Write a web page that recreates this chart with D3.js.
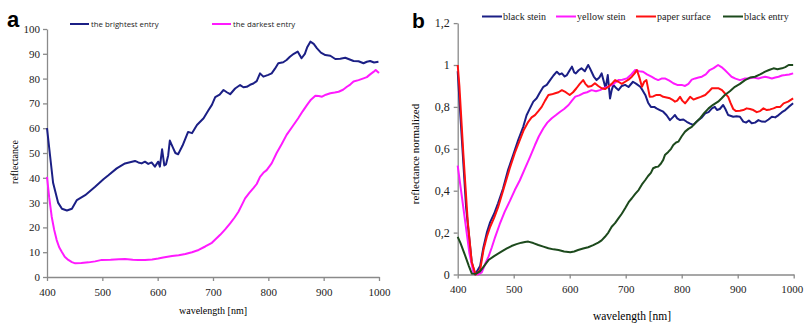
<!DOCTYPE html>
<html>
<head>
<meta charset="utf-8">
<script src="https://cdn.jsdelivr.net/npm/d3@7"></script>
<style>
  body { margin: 0; background: #fff; }
  svg { display: block; }
  .tick text { font-family: "Liberation Serif", "Times New Roman", serif; fill: #222; }
  .domain, .tick line { stroke: #8a8a8a; stroke-width: 1.3; }
</style>
</head>
<body>
<script>
'use strict';

// ---- panel a: reflectance [%] ----
const brightWl = [400,405,411,420,427,436,445,454,469,487,502,511,526,541,559,565,571,577,583,589,595,601,604,608,612,615,619,622,628,632,637,645,655,662,671,683,692,698,704,712,719,725,731,740,749,755,761,767,773,779,785,791,800,806,812,818,827,833,839,846,853,860,866,870,876,882,888,895,903,912,921,930,939,946,954,963,972,978,984,991,999];
const brightVal = [60,50,38,30,27.5,26.8,27.5,31,33,36.4,39.4,41,43.8,45.8,46.8,46.2,45.8,46.5,45.6,46.2,44.5,46.5,44.5,51.5,45,45.4,49,55,52,50,49.5,53,58.5,58,61.3,64,67.3,69.4,72.5,73.5,75.4,74.5,73.7,76,77.4,76.5,76.7,77.5,78,79,82.1,80.8,81.5,82.1,84,86.2,86.6,87.5,88.8,90,90.9,88.2,90,92.5,94.9,94,92.2,90.5,89.5,89.2,87.9,88,88.4,87.8,87.1,87,86.2,86.8,87.1,86.5,86.8];

const darkWl = [400,404,408.5,413,417.5,422,426.6,432,438.5,445,451,462,475,487,499,515,530,541,555,565,577,590,601,610,618,626,638,650,662,674,686,698,713,722,731,739,746,752,758,766,773,779,785,791,797,806,815,824,833,843,854,862,870,877,885,891,897,904,912,920,927,935,942,948,954,963,972,978,984,990,994,1000];
const darkVal = [40.4,32,24.3,19,14.9,12,10.2,8.2,6.9,6,5.5,5.6,5.9,6.3,6.9,7,7.2,7.3,7,6.9,6.9,7.1,7.5,7.9,8.2,8.5,8.8,9.3,10,10.9,12.3,13.8,17,19.2,21.6,24,26.3,29,31.7,34,35.8,37.5,40.4,42,43.1,45.8,50,53.5,57.3,60.5,64,66.8,69.4,71.5,73.1,73,72.7,73.5,74.1,74.4,74.7,75.5,76.7,77.6,78.8,79.4,80.1,80.6,81.7,82.7,83.5,82.3];

const aSeriesNames = ["the brightest entry", "the darkest entry"];
const aSeriesColors = ["#1b1f85", "#ff1aff"];
const aYTicks = [0,10,20,30,40,50,60,70,80,90,100];
const xTicks = [400,500,600,700,800,900,1000];

// ---- panel b: normalized reflectance ----
const steinWl = [400,405,415,425,431,440,446,452,458,465,472,481,490,499,508,517,523,529,535,541,547,553,559,565,571,577,582,586,591,595,600,604,608,611,616,621,627,633,636,639,643,648,653,657,661,664,668,672,675,678,683,687,693,699,705,713,719,726,730,735,740,745,751,755,761,767,773,779,784,788,792,797,803,809,815,821,826,830,836,842,848,854,859,863,868,874,878,883,892,898,904,910,915,920,925,931,937,943,949,955,961,967,973,979,985,991,999];
const steinVal = [0.97,0.75,0.32,0.06,0,0.04,0.13,0.2,0.25,0.29,0.34,0.41,0.5,0.57,0.642,0.705,0.76,0.793,0.825,0.841,0.87,0.896,0.905,0.928,0.95,0.968,0.955,0.96,0.945,0.952,0.975,0.992,0.965,0.96,0.975,0.984,0.97,1.0,0.985,0.968,0.945,0.928,0.94,0.96,0.92,0.889,0.952,0.84,0.88,0.905,0.89,0.88,0.9,0.905,0.895,0.92,0.91,0.896,0.88,0.857,0.82,0.8,0.8,0.793,0.785,0.777,0.76,0.737,0.75,0.761,0.745,0.737,0.74,0.729,0.72,0.714,0.728,0.737,0.75,0.769,0.775,0.793,0.8,0.785,0.79,0.809,0.79,0.761,0.753,0.755,0.753,0.73,0.725,0.735,0.722,0.725,0.737,0.73,0.729,0.74,0.753,0.75,0.761,0.775,0.785,0.8,0.817];

const yellowWl = [400,406,414,421,428,436,443,449,455,461,467,475,484,493,502,511,520,529,538,545,553,560,568,575,583,590,598,604,610,617,624,631,639,647,654,661,669,678,687,694,702,710,717,724,731,738,746,752,758,764,770,778,785,792,800,806,812,818,824,830,836,843,850,857,865,871,877,883,889,896,904,912,919,928,937,943,949,955,961,967,973,979,985,992,999];
const yellowVal = [0.52,0.4,0.24,0.1,0.01,0,0.01,0.05,0.085,0.13,0.18,0.24,0.3,0.35,0.403,0.45,0.505,0.56,0.618,0.66,0.698,0.725,0.746,0.76,0.777,0.79,0.809,0.83,0.849,0.855,0.865,0.87,0.88,0.875,0.88,0.89,0.896,0.91,0.928,0.93,0.936,0.955,0.976,0.97,0.968,0.955,0.944,0.935,0.928,0.935,0.936,0.925,0.913,0.905,0.905,0.9,0.91,0.93,0.936,0.94,0.944,0.955,0.976,0.985,1.0,0.99,0.976,0.96,0.944,0.935,0.928,0.935,0.936,0.94,0.936,0.94,0.944,0.94,0.936,0.94,0.944,0.95,0.952,0.955,0.96];

const paperWl = [400,403,410,418,425,432,440,446,452,458,465,472,481,493,502,511,518,526,532,538,544,550,556,562,568,574,580,586,593,600,606,612,618,624,628,633,639,645,651,657,663,669,675,681,687,693,699,705,711,716,720,725,729,733,737,743,749,755,761,767,773,779,783,788,792,797,801,806,810,815,821,827,834,842,848,854,860,866,872,877,883,887,892,897,904,910,916,922,928,934,940,946,952,958,964,970,976,982,990,999];
const paperVal = [1.0,0.9,0.58,0.25,0.06,0,0.02,0.117,0.18,0.228,0.27,0.32,0.4,0.507,0.58,0.642,0.69,0.729,0.75,0.761,0.78,0.8,0.83,0.857,0.86,0.865,0.87,0.88,0.87,0.857,0.87,0.889,0.91,0.928,0.91,0.896,0.9,0.913,0.9,0.889,0.885,0.896,0.91,0.928,0.92,0.91,0.92,0.93,0.944,0.96,0.976,0.936,0.896,0.92,0.928,0.848,0.85,0.857,0.857,0.848,0.845,0.841,0.835,0.825,0.83,0.848,0.83,0.817,0.83,0.848,0.835,0.841,0.848,0.857,0.872,0.889,0.889,0.889,0.88,0.865,0.848,0.82,0.79,0.78,0.782,0.785,0.793,0.79,0.785,0.775,0.78,0.793,0.785,0.788,0.793,0.8,0.8,0.817,0.825,0.841];

const entryWl = [400,405,412,420,425,432,440,447,455,465,478,487,496,505,514,520,526,535,544,553,562,571,580,590,601,608,615,624,633,642,651,657,663,669,675,681,687,693,699,706,711,717,723,729,735,740,745,749,754,758,763,767,770,776,781,785,790,794,800,806,812,818,825,833,840,848,856,865,871,877,886,895,904,913,922,931,940,949,956,964,971,979,985,991,999];
const entryVal = [0.18,0.15,0.1,0.04,0.005,0.003,0.015,0.04,0.069,0.088,0.109,0.123,0.136,0.145,0.152,0.155,0.157,0.15,0.141,0.133,0.125,0.12,0.117,0.11,0.106,0.11,0.117,0.124,0.13,0.14,0.152,0.163,0.18,0.2,0.228,0.245,0.268,0.29,0.316,0.348,0.364,0.385,0.403,0.43,0.451,0.47,0.485,0.507,0.513,0.515,0.53,0.547,0.57,0.585,0.6,0.618,0.63,0.634,0.66,0.682,0.695,0.705,0.725,0.746,0.77,0.793,0.81,0.825,0.84,0.857,0.875,0.896,0.91,0.928,0.94,0.944,0.955,0.968,0.976,0.984,0.98,0.984,0.99,1.0,1.0];

const bSeriesNames = ["black stein", "yellow stein", "paper surface", "black entry"];
const bSeriesColors = ["#1b1f85", "#ff1aff", "#ff1010", "#1d4a1d"];
const bYTicks = [0, 0.2, 0.4, 0.6, 0.8, 1, 1.2];
const bYTickLabels = ["0", "0,2", "0,4", "0,6", "0,8", "1", "1,2"];

const serif = '"Liberation Serif", "Times New Roman", serif';

const svg = d3.select('body').append('svg')
  .attr('width', 804)
  .attr('height', 323);

function zip(wl, val) {
  return wl.map((w, i) => ({ x: w, y: val[i] }));
}

function drawLine(g, xScale, yScale, pts, color) {
  let line = d3.line()
    .x(d => xScale(d.x))
    .y(d => yScale(d.y));
  g.append('path')
    .datum(pts)
    .attr('d', line)
    .attr('fill', 'none')
    .attr('stroke', color)
    .attr('stroke-width', 2)
    .attr('stroke-linejoin', 'round');
}

// ================= panel a =================
function makePanelA() {
  let xScale = d3.scaleLinear().domain([400, 1000]).range([47, 379]);
  let yScale = d3.scaleLinear().domain([0, 100]).range([277, 29]);

  let xAxis = d3.axisBottom(xScale).tickValues(xTicks).tickFormat(d3.format('d'))
    .tickSize(4).tickSizeOuter(0);
  svg.append('g')
    .attr('transform', 'translate(0, 277)')
    .call(xAxis)
    .selectAll('text')
      .style('font-size', '11px')
      .attr('dy', '1.05em');

  let yAxis = d3.axisLeft(yScale).tickValues(aYTicks).tickSize(4).tickSizeOuter(0);
  svg.append('g')
    .attr('transform', 'translate(47, 0)')
    .call(yAxis)
    .selectAll('text')
      .style('font-size', '11px');

  drawLine(svg, xScale, yScale, zip(brightWl, brightVal), aSeriesColors[0]);
  drawLine(svg, xScale, yScale, zip(darkWl, darkVal), aSeriesColors[1]);

  // legend
  let legX = [70, 212];
  aSeriesNames.forEach((name, i) => {
    svg.append('line')
      .attr('x1', legX[i]).attr('x2', legX[i] + 19)
      .attr('y1', 24).attr('y2', 24)
      .attr('stroke', aSeriesColors[i]).attr('stroke-width', 2);
    svg.append('text')
      .attr('x', legX[i] + 21).attr('y', 27)
      .style('font-family', '"Open Sans", sans-serif')
      .style('font-size', '7.8px')
      .attr('fill', '#222')
      .text(name);
  });

  svg.append('text')
    .attr('x', 7).attr('y', 27)
    .style('font-family', '"Liberation Sans", Arial, sans-serif')
    .style('font-weight', 'bold')
    .style('font-size', '22px')
    .text('a');

  svg.append('text')
    .attr('x', 213).attr('y', 314)
    .attr('text-anchor', 'middle')
    .style('font-family', serif)
    .style('font-size', '10px')
    .text('wavelength [nm]');

  svg.append('text')
    .attr('transform', 'translate(18, 162)rotate(-90)')
    .attr('text-anchor', 'middle')
    .style('font-family', serif)
    .style('font-size', '10px')
    .text('reflectance');
}

// ================= panel b =================
function makePanelB() {
  let xScale = d3.scaleLinear().domain([400, 1000]).range([457.7, 793.7]);
  let yScale = d3.scaleLinear().domain([0, 1.2]).range([274.5, 23.1]);

  let xAxis = d3.axisBottom(xScale).tickValues(xTicks).tickFormat(d3.format('d'))
    .tickSize(4).tickSizeOuter(0);
  let xg = svg.append('g')
    .attr('transform', 'translate(0, 274.5)')
    .call(xAxis);
  xg.selectAll('text')
      .style('font-size', '11px')
      .attr('dy', '1.05em');
  // last label sits at the window edge, pull it in a little
  xg.selectAll('text').filter(d => d === 1000).attr('dx', -2);

  let yAxis = d3.axisLeft(yScale).tickValues(bYTicks).tickSize(4).tickSizeOuter(0)
    .tickFormat((d, i) => bYTickLabels[i]);
  svg.append('g')
    .attr('transform', 'translate(457.7, 0)')
    .call(yAxis)
    .selectAll('text')
      .style('font-size', '12px')
      .attr('x', -8);

  let series = [
    zip(steinWl, steinVal),
    zip(yellowWl, yellowVal),
    zip(paperWl, paperVal),
    zip(entryWl, entryVal)
  ];
  series.forEach((pts, i) => drawLine(svg, xScale, yScale, pts, bSeriesColors[i]));

  // legend
  let legX = [482, 556, 636, 723];
  bSeriesNames.forEach((name, i) => {
    svg.append('line')
      .attr('x1', legX[i]).attr('x2', legX[i] + 20)
      .attr('y1', 16.5).attr('y2', 16.5)
      .attr('stroke', bSeriesColors[i]).attr('stroke-width', 2);
    svg.append('text')
      .attr('x', legX[i] + 21).attr('y', 20)
      .style('font-family', serif)
      .style('font-size', '10px')
      .attr('fill', '#222')
      .text(name);
  });

  svg.append('text')
    .attr('x', 412).attr('y', 28)
    .style('font-family', '"Liberation Sans", Arial, sans-serif')
    .style('font-weight', 'bold')
    .style('font-size', '21px')
    .text('b');

  svg.append('text')
    .attr('x', 632).attr('y', 320)
    .attr('text-anchor', 'middle')
    .style('font-family', serif)
    .style('font-size', '11.5px')
    .text('wavelength [nm]');

  svg.append('text')
    .attr('transform', 'translate(419, 154)rotate(-90)')
    .attr('text-anchor', 'middle')
    .style('font-family', serif)
    .style('font-size', '11px')
    .text('reflectance normalized');
}

makePanelA();
makePanelB();
</script>
</body>
</html>
